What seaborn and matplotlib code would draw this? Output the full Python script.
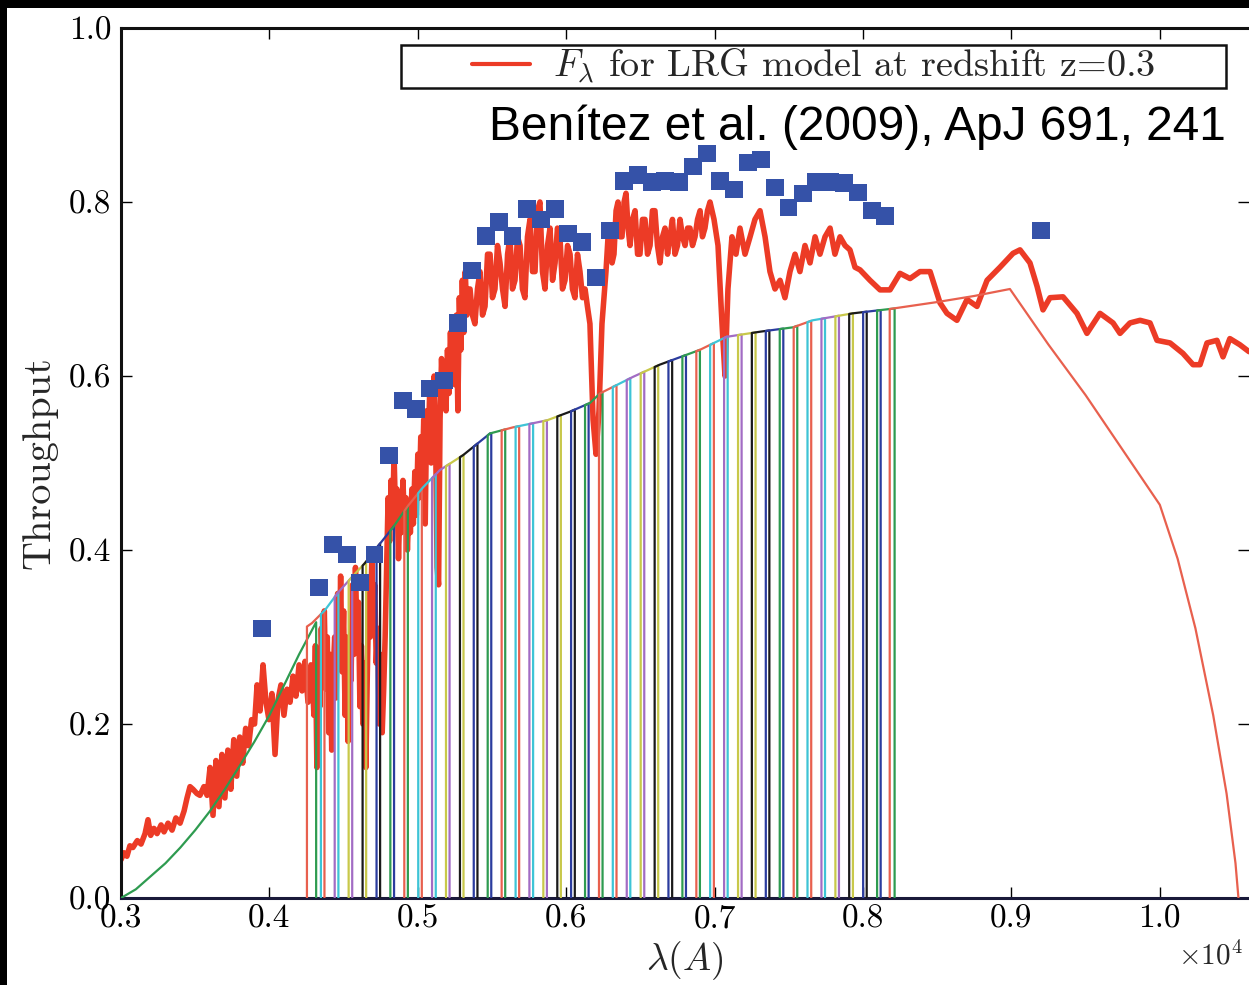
import numpy as np
import matplotlib
matplotlib.use("Agg")
import matplotlib.pyplot as plt
from matplotlib.lines import Line2D
from matplotlib.patches import Rectangle
import seaborn as sns

# ---------------- data (wavelength in units of 1e4 Angstrom) ----------------
spec_lam = [
    0.300, 0.302, 0.304, 0.306, 0.308, 0.311, 0.3135, 0.3162, 0.3182, 0.320,
    0.3222, 0.3243, 0.327, 0.329, 0.3317, 0.3344, 0.337, 0.3398, 0.3425, 0.3445,
    0.3465, 0.3485, 0.3512, 0.3532, 0.3559, 0.358, 0.360, 0.362, 0.364, 0.366,
    0.368, 0.370, 0.372, 0.374, 0.376, 0.378, 0.380, 0.382, 0.384, 0.386,
    0.388, 0.390, 0.3917, 0.3937, 0.3957, 0.3977, 0.3997, 0.4017, 0.4038, 0.4058,
    0.4078, 0.4098, 0.4119, 0.4139, 0.4159, 0.4179, 0.420, 0.422, 0.424, 0.426,
    0.428,
    0.429, 0.430, 0.431, 0.432, 0.433, 0.434, 0.435, 0.436, 0.437, 0.438,
    0.439, 0.440, 0.441, 0.442, 0.443, 0.444, 0.445, 0.446, 0.447, 0.448,
    0.449, 0.450, 0.451, 0.452, 0.453, 0.454, 0.455, 0.456, 0.457, 0.458,
    0.459, 0.460, 0.461, 0.462, 0.463, 0.464, 0.465, 0.466, 0.467, 0.468,
    0.469, 0.470, 0.471, 0.472, 0.473, 0.474, 0.475, 0.476, 0.477, 0.478,
    0.479, 0.480, 0.481, 0.482, 0.483, 0.484, 0.485, 0.486, 0.487, 0.488,
    0.489, 0.490, 0.491, 0.492, 0.493, 0.494, 0.495, 0.496, 0.497, 0.498,
    0.499, 0.500, 0.501, 0.502, 0.503, 0.504, 0.505, 0.506, 0.507, 0.508,
    0.509, 0.510, 0.511, 0.512, 0.513, 0.514, 0.515, 0.516, 0.517, 0.518,
    0.519, 0.520, 0.521, 0.522, 0.523, 0.524, 0.525, 0.526, 0.527, 0.528,
    0.529, 0.530, 0.531, 0.532, 0.533, 0.534,
    0.5352, 0.5368, 0.5385, 0.5402, 0.5419, 0.5436, 0.5453, 0.5470, 0.5487, 0.5503,
    0.5520, 0.5537, 0.5554, 0.5571, 0.5588, 0.5605, 0.5621, 0.5638, 0.5655, 0.5672,
    0.5689, 0.5705, 0.5722, 0.5739, 0.5756, 0.5773, 0.5790, 0.5806, 0.5823, 0.5840,
    0.5857, 0.5874, 0.5891, 0.5908, 0.5925, 0.5941, 0.5958, 0.5975, 0.5992, 0.6009,
    0.6026, 0.6042, 0.6059, 0.6076, 0.6093, 0.6110, 0.6127, 0.6143, 0.6160, 0.6181,
    0.6201, 0.6221, 0.6241, 0.6268, 0.6282, 0.6295, 0.6309, 0.6322, 0.6336, 0.6349,
    0.6363, 0.6376, 0.6390, 0.6403, 0.6417, 0.6430, 0.6447, 0.6464, 0.6481, 0.6497,
    0.6514, 0.6531, 0.6548, 0.6565, 0.6581, 0.6598, 0.6615, 0.6632, 0.6649, 0.6666,
    0.6683, 0.6699, 0.6716, 0.6733, 0.6750, 0.6767, 0.6784, 0.6801, 0.6818, 0.6834,
    0.6851, 0.6868, 0.6885, 0.6902, 0.6918, 0.6935, 0.6952, 0.6969, 0.6996, 0.7023,
    0.7050, 0.7070, 0.7090, 0.7117, 0.7144, 0.7171, 0.7205, 0.7239, 0.7272, 0.7306,
    0.7340, 0.7373, 0.7407, 0.7441, 0.7474, 0.7508, 0.7542, 0.7575, 0.7609, 0.7643,
    0.7677, 0.7710, 0.7744, 0.7778, 0.7811, 0.7845, 0.7879, 0.7912, 0.7946, 0.7980,
    0.8047, 0.8115, 0.8182, 0.8249, 0.8317, 0.8384, 0.8452,
    0.8519, 0.8566, 0.8633, 0.8701, 0.8768, 0.8836, 0.8923, 0.9011, 0.9058, 0.9125,
    0.9173, 0.9213, 0.9260, 0.9348, 0.9442, 0.9509, 0.9597, 0.9685, 0.9732, 0.9799,
    0.9867, 0.9934, 0.9981, 1.0069, 1.0156, 1.0224, 1.0271, 1.0318, 1.0385, 1.0426,
    1.0472, 1.0539, 1.0601,
]
spec_flux = [
    0.044, 0.052, 0.048, 0.060, 0.058, 0.066, 0.062, 0.074, 0.090, 0.072,
    0.080, 0.074, 0.084, 0.076, 0.086, 0.078, 0.092, 0.086, 0.100, 0.115,
    0.128, 0.125, 0.120, 0.118, 0.128, 0.118, 0.150, 0.095, 0.158, 0.105,
    0.165, 0.115, 0.170, 0.125, 0.182, 0.140, 0.185, 0.155, 0.195, 0.175,
    0.205, 0.200, 0.245, 0.215, 0.268, 0.225, 0.205, 0.235, 0.165, 0.228,
    0.245, 0.210, 0.240, 0.225, 0.255, 0.232, 0.268, 0.238, 0.272, 0.225,
    0.268,
    0.25, 0.21, 0.29, 0.15, 0.27, 0.22, 0.31, 0.25, 0.33, 0.24,
    0.30, 0.19, 0.28, 0.17, 0.26, 0.30, 0.23, 0.35, 0.27, 0.37,
    0.26, 0.33, 0.21, 0.30, 0.18, 0.29, 0.25, 0.36, 0.28, 0.38,
    0.30, 0.34, 0.22, 0.29, 0.20, 0.27, 0.15, 0.26, 0.35, 0.30,
    0.39, 0.32, 0.36, 0.27, 0.31, 0.20, 0.28, 0.19, 0.24, 0.30,
    0.38, 0.46, 0.41, 0.48, 0.43, 0.51, 0.44, 0.47, 0.39, 0.46,
    0.42, 0.48, 0.43, 0.46, 0.40, 0.45, 0.42, 0.47, 0.43, 0.49,
    0.44, 0.51, 0.46, 0.53, 0.48, 0.55, 0.43, 0.56, 0.52, 0.58,
    0.50, 0.55, 0.60, 0.53, 0.38, 0.36, 0.55, 0.62, 0.57, 0.61,
    0.56, 0.63, 0.58, 0.65, 0.60, 0.66, 0.59, 0.67, 0.56, 0.69,
    0.63, 0.71, 0.65, 0.72, 0.67, 0.70,
    0.700, 0.670, 0.660, 0.700, 0.720, 0.670, 0.680, 0.740, 0.740, 0.690,
    0.700, 0.750, 0.730, 0.700, 0.680, 0.740, 0.760, 0.700, 0.710, 0.760,
    0.750, 0.700, 0.690, 0.760, 0.780, 0.720, 0.720, 0.790, 0.800, 0.720,
    0.700, 0.750, 0.770, 0.710, 0.730, 0.770, 0.760, 0.700, 0.710, 0.750,
    0.740, 0.700, 0.690, 0.740, 0.720, 0.690, 0.700, 0.680, 0.660, 0.550,
    0.510, 0.560, 0.660, 0.720, 0.760, 0.770, 0.730, 0.740, 0.790, 0.800,
    0.760, 0.760, 0.800, 0.810, 0.770, 0.750, 0.780, 0.790, 0.740, 0.740,
    0.780, 0.780, 0.740, 0.750, 0.790, 0.790, 0.750, 0.730, 0.760, 0.770,
    0.740, 0.760, 0.780, 0.740, 0.750, 0.780, 0.760, 0.750, 0.770, 0.770,
    0.750, 0.760, 0.780, 0.790, 0.760, 0.770, 0.790, 0.800, 0.780, 0.750,
    0.660, 0.600, 0.700, 0.760, 0.740, 0.770, 0.740, 0.760, 0.780, 0.790,
    0.760, 0.720, 0.700, 0.710, 0.690, 0.720, 0.740, 0.720, 0.750, 0.730,
    0.760, 0.740, 0.760, 0.770, 0.740, 0.760, 0.750, 0.745, 0.725, 0.722,
    0.710, 0.699, 0.699, 0.718, 0.712, 0.720, 0.720,
    0.684, 0.672, 0.664, 0.688, 0.680, 0.710, 0.725, 0.741, 0.745, 0.730,
    0.703, 0.676, 0.690, 0.691, 0.672, 0.649, 0.672, 0.661, 0.649, 0.661,
    0.664, 0.661, 0.641, 0.638, 0.626, 0.613, 0.613, 0.638, 0.641, 0.622,
    0.643, 0.636, 0.628,
]

# photometry at the filter centres (blue squares)
phot_lam = [0.3950, 0.4334, 0.4429, 0.4523, 0.4610, 0.4710, 0.4806, 0.4900, 0.4988,
            0.5080, 0.5177, 0.5270, 0.5365, 0.5460, 0.5547, 0.5640, 0.5736, 0.5830,
            0.5925, 0.6012, 0.6106, 0.6200, 0.6295, 0.6390, 0.6484, 0.6578, 0.6666,
            0.6760, 0.6854, 0.6949, 0.7036, 0.7130, 0.7225, 0.7313, 0.7407, 0.7500,
            0.7596, 0.7683, 0.7778, 0.7872, 0.7966, 0.8060, 0.8148, 0.9200]
phot_flux = [0.310, 0.357, 0.406, 0.395, 0.363, 0.395, 0.509, 0.572, 0.562,
             0.586, 0.595, 0.661, 0.721, 0.761, 0.777, 0.761, 0.792, 0.780,
             0.792, 0.764, 0.754, 0.713, 0.767, 0.824, 0.831, 0.823, 0.824,
             0.823, 0.841, 0.856, 0.824, 0.814, 0.845, 0.849, 0.817, 0.794,
             0.810, 0.823, 0.823, 0.822, 0.811, 0.790, 0.784, 0.767]

# broad blue filter (green curve)
u_lam = [0.300, 0.310, 0.320, 0.330, 0.340, 0.350, 0.360, 0.370, 0.380, 0.390,
         0.400, 0.410, 0.420, 0.4315]
u_thr = [0.000, 0.010, 0.025, 0.040, 0.058, 0.078, 0.100, 0.125, 0.152, 0.180,
         0.210, 0.245, 0.280, 0.317]

# system throughput envelope of the narrow-band filters
env_lam = [0.4200, 0.4253, 0.4287, 0.4375, 0.4462, 0.4557, 0.4644, 0.4725, 0.4833,
           0.4930, 0.5035, 0.5150, 0.5305, 0.5487, 0.5642, 0.5870, 0.6026, 0.6160,
           0.6228, 0.6450, 0.6630, 0.6900, 0.7080, 0.7310, 0.7530, 0.7660, 0.7930,
           0.8180, 0.8300]
env_thr = [0.305, 0.312, 0.316, 0.331, 0.351, 0.369, 0.385, 0.403, 0.426,
           0.450, 0.472, 0.492, 0.509, 0.534, 0.541, 0.549, 0.559, 0.569,
           0.580, 0.599, 0.613, 0.630, 0.645, 0.651, 0.656, 0.664, 0.672,
           0.677, 0.679]

# narrow-band filters: left edges
nb_left = [0.4253, 0.4347, 0.4440, 0.4534, 0.4628, 0.4722, 0.4815, 0.4909, 0.5003,
           0.5096, 0.5190, 0.5284, 0.5377, 0.5471, 0.5565, 0.5659, 0.5752, 0.5846,
           0.5940, 0.6033, 0.6127, 0.6221, 0.6314, 0.6408, 0.6502, 0.6596, 0.6689,
           0.6783, 0.6877, 0.6970, 0.7064, 0.7158, 0.7251, 0.7345, 0.7439, 0.7533,
           0.7626, 0.7720, 0.7814, 0.7907, 0.8001, 0.8095]
nb_width = 0.0118

# broad red filter
y_lam = [0.818, 0.818, 0.850, 0.875, 0.899, 0.925, 0.950, 0.975, 1.000, 1.012,
         1.024, 1.036, 1.045, 1.051, 1.053]
y_thr = [0.000, 0.677, 0.685, 0.692, 0.700, 0.636, 0.578, 0.515, 0.452, 0.390,
         0.310, 0.210, 0.120, 0.040, 0.000]

x_ticks = [0.3, 0.4, 0.5, 0.6, 0.7, 0.8, 0.9, 1.0]
x_ticklabels = ["0.3", "0.4", "0.5", "0.6", "0.7", "0.8", "0.9", "1.0"]
y_ticks = [0.0, 0.2, 0.4, 0.6, 0.8, 1.0]
y_ticklabels = ["0.0", "0.2", "0.4", "0.6", "0.8", "1.0"]

legend_label = r"$F_\lambda$ for LRG model at redshift z=0.3"
credit = "Benítez et al. (2009), ApJ 691, 241"

# ---------------- style ----------------
sns.set_theme(style="ticks")
plt.rcParams["font.family"] = "serif"
plt.rcParams["font.serif"] = ["cmr10", "DejaVu Serif"]
plt.rcParams["mathtext.fontset"] = "cm"
plt.rcParams["axes.unicode_minus"] = False
plt.rcParams["axes.formatter.use_mathtext"] = True

cycle = ["#2B3C9E", "#2E9B50", "#E8604E", "#3EC4D6", "#A26CC4", "#C8C84A", "#1A1A1A"]
spec_color = "#EC3B26"
sq_color = "#3552A8"

W, H = 1249, 985
fig = plt.figure(figsize=(W / 100, H / 100), dpi=100, facecolor="black")
fig.patches.append(Rectangle((7 / W, 0), 1, (H - 8) / H, transform=fig.transFigure,
                             facecolor="white", edgecolor="none", zorder=-10))

ax_l, ax_r, ax_t, ax_b = 121, 1249, 28, 898
ax = fig.add_axes([ax_l / W, 1 - ax_b / H, (ax_r - ax_l) / W, (ax_b - ax_t) / H])
ax.set_facecolor("white")

xmax = 0.3 + (ax_r - ax_l) / 1484.0
ax.set_xlim(0.3, xmax)
ax.set_ylim(0.0, 1.0)

# spectrum
sns.lineplot(x=spec_lam, y=spec_flux, estimator=None, sort=False, color=spec_color,
             lw=4.0, ax=ax, zorder=2, legend=False)

# broad blue filter (green)
ax.plot(u_lam + [u_lam[-1]], u_thr + [0.0], color=cycle[1], lw=1.6, zorder=3)

# narrow-band filters
for k, left in enumerate(nb_left):
    right = left + nb_width
    inner = [v for v in env_lam if left < v < right]
    xs = [left, left] + inner + [right, right]
    top = list(np.interp([left] + inner + [right], env_lam, env_thr))
    ys = [0.0] + top + [0.0]
    ax.plot(xs, ys, color=cycle[(2 + k) % 7], lw=1.6, zorder=3)

# broad red filter
ax.plot(y_lam, y_thr, color=cycle[2], lw=1.6, zorder=3)

# photometric points
sns.scatterplot(x=phot_lam, y=phot_flux, marker="s", s=155, color=sq_color,
                edgecolor="none", ax=ax, zorder=5, legend=False)

# axes cosmetics
ax.set_xticks(x_ticks)
ax.set_xticklabels(x_ticklabels)
ax.set_yticks(y_ticks)
ax.set_yticklabels(y_ticklabels)
ax.tick_params(direction="in", length=8, width=1.0, top=True, right=True,
               labelsize=24, colors="black", pad=7)
ax.tick_params(axis="x", pad=5)
for side in ["left", "top", "bottom"]:
    ax.spines[side].set_linewidth(2.2)
    ax.spines[side].set_color("#111111")
ax.spines["bottom"].set_color("#1a1a3a")
ax.spines["right"].set_visible(False)

ax.set_ylabel("Throughput", fontsize=29, labelpad=8)
ax.set_xlabel(r"$\lambda(A)$", fontsize=27, labelpad=4)

fig.text(1243 / W, 1 - 956 / H, r"$\times10^{4}$", fontsize=21, ha="right", va="center")

# legend with separate frame
handle = Line2D([], [], color=spec_color, lw=3)
ax.legend([handle], [legend_label], loc="center",
          bbox_to_anchor=((814 - ax_l) / (ax_r - ax_l), (ax_b - 66.5) / (ax_b - ax_t)),
          frameon=False, fontsize=27.5, handlelength=1.52, handletextpad=0.6,
          borderpad=0.0, borderaxespad=0.0)
ax.add_patch(Rectangle(((401 - ax_l) / (ax_r - ax_l), (ax_b - 88) / (ax_b - ax_t)),
                       (1226 - 401) / (ax_r - ax_l), 43 / (ax_b - ax_t),
                       transform=ax.transAxes, facecolor="white", edgecolor="#111111",
                       lw=1.8, zorder=6))
ax.get_legend().set_zorder(7)

fig.text(1226 / W, 1 - 140 / H, credit, fontsize=34.5, family="Liberation Sans",
         ha="right", va="baseline", color="black")

fig.savefig("out.png", dpi=100, facecolor=fig.get_facecolor())
